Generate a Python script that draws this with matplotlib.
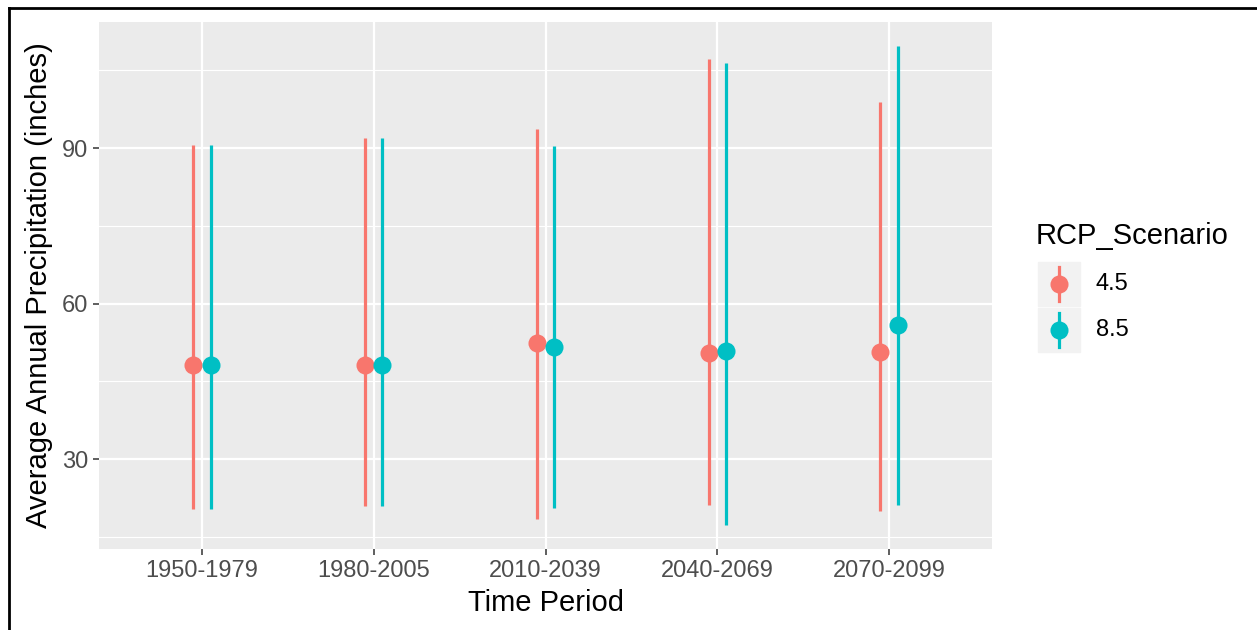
import numpy as np
import matplotlib
matplotlib.use("Agg")
import matplotlib.pyplot as plt
from matplotlib.patches import Rectangle
from matplotlib.lines import Line2D

plt.rcParams["font.family"] = ["Liberation Sans", "DejaVu Sans"]

periods = ["1950-1979", "1980-2005", "2010-2039", "2040-2069", "2070-2099"]
scenarios = ["4.5", "8.5"]

mean_45 = [48.1, 48.1, 52.5, 50.4, 50.7]
low_45 = [20.3, 20.9, 18.5, 21.1, 20.1]
high_45 = [90.6, 91.9, 93.7, 107.1, 98.9]

mean_85 = [48.1, 48.1, 51.6, 50.9, 55.8]
low_85 = [20.3, 20.9, 20.6, 17.3, 21.1]
high_85 = [90.6, 91.9, 90.5, 106.4, 109.7]

colors = ["#F8766D", "#00BFC4"]

W, H = 1257, 630
fig = plt.figure(figsize=(W / 100, H / 100), dpi=100)
ax = fig.add_axes([99 / W, (H - 549) / H, (992 - 99) / W, (549 - 22) / H])
ax.set_facecolor("#EBEBEB")

x = np.arange(1, len(periods) + 1)
dodge = 0.05
series = [(mean_45, low_45, high_45), (mean_85, low_85, high_85)]
for i, (m, lo, hi) in enumerate(series):
    xs = x + (-dodge if i == 0 else dodge)
    ax.vlines(xs, lo, hi, color=colors[i], lw=2.3, zorder=3)
    ax.plot(xs, m, "o", color=colors[i], ms=13, mew=0, zorder=4)

# ggplot-like expansion of the y range
ymin = min(low_45 + low_85)
ymax = max(high_45 + high_85)
pad = (ymax - ymin) * 0.05
ax.set_ylim(ymin - pad, ymax + pad)
ax.set_xlim(0.4, len(periods) + 0.6)

ax.set_xticks(x)
ax.set_xticklabels(periods)
ax.set_yticks([30, 60, 90])
ax.set_yticks([15, 45, 75, 105], minor=True)
ax.tick_params(axis="both", which="major", labelsize=17, labelcolor="#4D4D4D",
               color="#333333", length=4.5, width=1.1, pad=3.5)
ax.tick_params(axis="y", which="minor", length=0)
ax.grid(True, which="major", color="white", lw=1.6)
ax.grid(True, which="minor", color="white", lw=0.8)
ax.set_axisbelow(True)
for s in ax.spines.values():
    s.set_visible(False)

ax.set_xlabel("Time Period", fontsize=21, labelpad=5)
ax.set_ylabel("Average Annual Precipitation (inches)", fontsize=21, labelpad=6)

# legend
fig.text(1036 / W, 1 - 236 / H, "RCP_Scenario", fontsize=21, va="center", ha="left")
for i, lab in enumerate(scenarios):
    yc = 284 + i * 46
    fig.patches.append(Rectangle((1038 / W, 1 - (yc + 22) / H), 42 / W, 44 / H,
                                 transform=fig.transFigure, color="#F2F2F2", zorder=1))
    fig.lines.append(Line2D([1059 / W, 1059 / W], [1 - (yc - 17) / H, 1 - (yc + 17) / H],
                            transform=fig.transFigure, color=colors[i], lw=2.3, zorder=2))
    fig.lines.append(Line2D([1059 / W], [1 - yc / H], transform=fig.transFigure,
                            marker="o", color=colors[i], ms=13, mew=0, zorder=3))
    fig.text(1096 / W, 1 - yc / H, lab, fontsize=17, va="center", ha="left")

# outer frame on the left and top
fig.lines.append(Line2D([9 / W, 9 / W], [0, 1 - 8 / H], transform=fig.transFigure,
                        color="black", lw=2))
fig.lines.append(Line2D([9 / W, 1], [1 - 8 / H, 1 - 8 / H], transform=fig.transFigure,
                        color="black", lw=2))

fig.savefig("out.png", dpi=100)
